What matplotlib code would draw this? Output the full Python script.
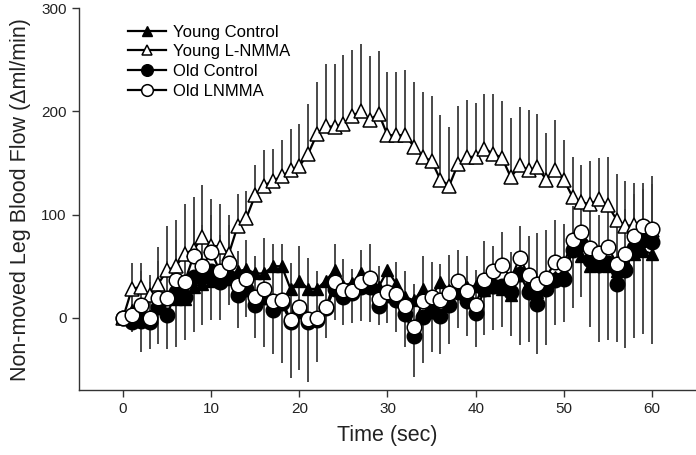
import matplotlib.pyplot as plt
import numpy as np

plt.rcParams["font.family"] = ["Liberation Sans", "DejaVu Sans"]

time_sec = np.arange(0, 61)

young_control = [0, 8, 5, 2, 12, 20, 18, 18, 30, 33, 36, 37, 38, 45, 47, 43, 43, 50, 50, 28,
                 36, 28, 28, 36, 46, 31, 34, 43, 36, 30, 46, 33, 20, 17, 28, 20, 35, 27, 33, 30,
                 31, 27, 30, 28, 22, 45, 35, 25, 32, 40, 45, 70, 60, 50, 55, 50, 45, 55, 62, 65,
                 62]
young_lnmma = [0, 28, 30, 22, 33, 46, 50, 62, 66, 78, 70, 69, 62, 89, 97, 119, 128, 133, 137, 143,
               147, 159, 178, 186, 185, 188, 196, 200, 192, 198, 177, 177, 177, 166, 156, 152, 134, 128, 149, 156,
               156, 164, 159, 155, 136, 148, 143, 146, 134, 143, 134, 117, 112, 110, 115, 109, 95, 89, 90, 88,
               85]
old_control = [0, -4, -3, -4, 10, 3, 25, 20, 40, 40, 45, 35, 40, 22, 28, 12, 20, 8, 14, -4,
               7, -4, -2, 9, 28, 20, 24, 30, 30, 11, 22, 17, 4, -18, 1, 7, 2, 12, 25, 16,
               5, 28, 31, 31, 25, 42, 25, 13, 28, 37, 38, 66, 72, 56, 51, 53, 33, 46, 68, 75,
               73]
old_lnmma = [0, 3, 12, 0, 19, 19, 37, 35, 60, 50, 64, 45, 53, 32, 38, 20, 28, 16, 17, -2,
             10, -1, 0, 10, 35, 27, 26, 35, 39, 18, 25, 23, 11, -9, 16, 20, 17, 24, 36, 26,
             12, 37, 45, 51, 38, 58, 41, 33, 39, 54, 52, 75, 83, 68, 63, 69, 52, 62, 79, 89,
             86]

# error bar ends (one-sided bars)
young_lnmma_top = [0, 53, 53, 41, 69, 89, 95, 110, 117, 129, 115, 110, 100, 120, 123, 148, 163, 164, 172, 183,
                   188, 207, 229, 246, 246, 255, 260, 265, 254, 259, 238, 238, 240, 229, 219, 215, 197, 185, 205, 211,
                   208, 217, 217, 210, 194, 204, 201, 198, 179, 192, 172, 156, 148, 152, 155, 156, 139, 133, 131, 131,
                   137]
old_lnmma_top = [0, 35, 45, 35, 55, 55, 75, 70, 95, 90, 100, 80, 90, 65, 75, 60, 77, 72, 72, 53,
                 70, 58, 45, 40, 72, 57, 47, 66, 72, 50, 48, 54, 45, 33, 60, 54, 52, 61, 66, 60,
                 46, 74, 70, 83, 64, 89, 79, 82, 85, 95, 91, 108, 120, 105, 100, 110, 100, 105, 120, 125,
                 130]
old_control_bottom = [0, -14, -33, -30, -25, -30, -28, -22, -14, -7, -2, -2, 12, -10, 1, -20, -28, -35, -44, -58,
                      -51, -62, -43, -20, -2, -7, -5, -3, -4, -7, -5, -14, -28, -57, -44, -33, -35, -25, -10, -18,
                      -28, -17, -12, -9, -18, -26, -23, -35, -26, -7, -4, 9, 20, -9, -23, -22, -23, -29, -20, -16,
                      -25]

yl = np.array(young_lnmma)
ol = np.array(old_lnmma)
oc = np.array(old_control)
yl_err = [np.zeros(61), np.array(young_lnmma_top) - yl]
ol_err = [np.zeros(61), np.array(old_lnmma_top) - ol]
oc_err = [oc - np.array(old_control_bottom), np.zeros(61)]

fig = plt.figure(figsize=(6.96, 4.55), dpi=100)
ax = fig.add_axes([0.1135, 0.1429, 0.8865, 0.8388])

bar_color = "#3a3a3a"

ax.errorbar(time_sec, yl, yerr=yl_err, fmt="none", ecolor=bar_color, elinewidth=1.3, capsize=0, zorder=1)
ax.errorbar(time_sec, ol, yerr=ol_err, fmt="none", ecolor=bar_color, elinewidth=1.3, capsize=0, zorder=1)
ax.errorbar(time_sec, oc, yerr=oc_err, fmt="none", ecolor=bar_color, elinewidth=1.3, capsize=0, zorder=1)

ax.plot(time_sec, young_control, color="black", lw=1.6, marker="^", ms=9,
        mfc="black", mec="black", label="Young Control", zorder=2)
ax.plot(time_sec, young_lnmma, color="black", lw=1.6, marker="^", ms=9.5,
        mfc="white", mec="black", mew=1.1, label="Young L-NMMA", zorder=3)
ax.plot(time_sec, old_control, color="black", lw=1.6, marker="o", ms=10.5,
        mfc="black", mec="black", label="Old Control", zorder=4)
ax.plot(time_sec, old_lnmma, color="black", lw=1.6, marker="o", ms=10.5,
        mfc="white", mec="black", mew=1.1, label="Old LNMMA", zorder=5)

ax.set_xlim(-5, 65)
ax.set_ylim(-70, 300)
ax.set_xticks([0, 10, 20, 30, 40, 50, 60])
ax.set_yticks([0, 100, 200, 300])
ax.spines["top"].set_visible(False)
ax.spines["right"].set_visible(False)
for side in ["left", "bottom"]:
    ax.spines[side].set_color("#333333")
    ax.spines[side].set_linewidth(1.0)
ax.tick_params(direction="out", length=5, width=1, colors="#333333", labelsize=11, pad=4)
for lab in ax.get_xticklabels() + ax.get_yticklabels():
    lab.set_color("#222222")

ax.set_xlabel("Time (sec)", fontsize=15.5, color="#222222", labelpad=6)
ax.set_ylabel("Non-moved Leg Blood Flow (\u0394ml/min)", fontsize=15.5, color="#222222", labelpad=7)

ax.legend(loc="upper left", bbox_to_anchor=(0.068, 0.975), frameon=False, fontsize=12,
          handlelength=2.3, labelspacing=0.28, handletextpad=0.45, borderaxespad=0.0,
          markerscale=0.8)

fig.savefig("out.png", dpi=100)
